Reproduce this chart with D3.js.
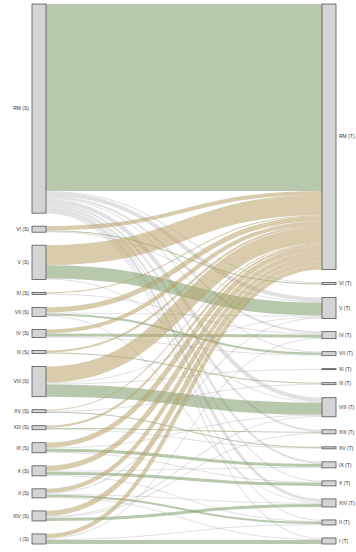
<!DOCTYPE html>
<html>
<head>
<meta charset="utf-8">
<script src="https://cdn.jsdelivr.net/npm/d3@7"></script>
<style>
  html, body { margin: 0; padding: 0; background: #fff; }
  svg { display: block; }
  text { font-family: "Liberation Sans", Arial, sans-serif; }
</style>
</head>
<body>
<svg id="chart" width="356" height="552"></svg>
<script>
// Column categories, top to bottom
const sourceNames = ["RM", "VI", "V", "XI", "VII", "IV", "III", "VIII", "XV", "XIII", "IX", "X", "II", "XIV", "I"];
const targetNames = ["RM", "VI", "V", "IV", "VII", "XI", "III", "VIII", "XIII", "XV", "IX", "X", "XIV", "II", "I"];

// Flows: source category, target category, amount
const flowSource = [
  "RM", "RM", "RM", "RM", "RM", "RM", "RM", "RM", "RM", "RM", "RM", "RM",
  "VI", "VI", "VI",
  "V", "V", "V",
  "XI", "XI",
  "VII", "VII", "VII", "VII",
  "IV", "IV", "IV",
  "III", "III",
  "VIII", "VIII", "VIII", "VIII",
  "XV", "XV", "XV",
  "XIII", "XIII", "XIII",
  "IX", "IX", "IX", "IX",
  "X", "X", "X", "X",
  "II", "II", "II", "II", "II",
  "XIV", "XIV", "XIV", "XIV",
  "I", "I", "I", "I"
];
const flowTarget = [
  "RM", "VI", "V", "IV", "VII", "VIII", "XIII", "IX", "X", "XIV", "II", "I",
  "RM", "VI", "V",
  "RM", "V", "VIII",
  "RM", "IV",
  "RM", "V", "VII", "XIV",
  "RM", "IV", "VII",
  "RM", "III",
  "RM", "V", "XI", "VIII",
  "RM", "III", "XV",
  "RM", "XIII", "XV",
  "RM", "VIII", "IX", "X",
  "RM", "IX", "X", "II",
  "RM", "V", "XIV", "II", "I",
  "RM", "VIII", "XIII", "XIV",
  "RM", "IV", "II", "I"
];
const flowValue = [
  186, 1, 4, 2, 1, 4, 2, 2, 1, 3, 1, 1,
  4, 1, 1,
  20, 13, 1,
  1, 1,
  5, 1, 2, 1,
  4, 3, 1,
  2, 1,
  16, 1, 1, 12,
  1, 1, 1,
  2, 1, 1,
  5, 1, 3, 1,
  5, 1, 3, 1,
  4, 1, 1, 2, 1,
  5, 1, 1, 3,
  4, 1, 1, 4
];

const svg = d3.select("#chart");
const yTop = 4, yBottom = 544, nodeWidth = 14, nodePadding = 13;
const x = d3.scalePoint().domain(["S", "T"]).range([32, 322]);

const links = flowValue.map((v, i) => ({ s: flowSource[i], t: flowTarget[i], value: v }));

function buildColumn(names, side, key) {
  return names.map(n => ({
    name: n, side,
    value: d3.sum(links.filter(l => l[key] === n), l => l.value)
  }));
}
const leftNodes = buildColumn(sourceNames, "S", "s");
const rightNodes = buildColumn(targetNames, "T", "t");

const maxTotal = Math.max(d3.sum(leftNodes, d => d.value), d3.sum(rightNodes, d => d.value));
const ky = (yBottom - yTop - nodePadding * (sourceNames.length - 1)) / maxTotal;
const h = d3.scaleLinear().domain([0, maxTotal]).range([0, maxTotal * ky]);

function place(nodes) {
  let y = yTop;
  nodes.forEach(n => {
    n.x0 = x(n.side); n.x1 = n.x0 + nodeWidth;
    n.y0 = y; n.y1 = y + h(n.value);
    y = n.y1 + nodePadding;
  });
}
place(leftNodes); place(rightNodes);

const leftBy = new Map(leftNodes.map(n => [n.name, n]));
const rightBy = new Map(rightNodes.map(n => [n.name, n]));
links.forEach(l => { l.source = leftBy.get(l.s); l.target = rightBy.get(l.t); l.width = h(l.value); });

// Stack link ends within each node, ordered by the opposite end's position
leftNodes.forEach(n => {
  let y = n.y0;
  links.filter(l => l.source === n)
    .sort((a, b) => targetNames.indexOf(a.t) - targetNames.indexOf(b.t))
    .forEach(l => { l.y0 = y + l.width / 2; y += l.width; });
});
rightNodes.forEach(n => {
  let y = n.y0;
  links.filter(l => l.target === n)
    .sort((a, b) => sourceNames.indexOf(a.s) - sourceNames.indexOf(b.s))
    .forEach(l => { l.y1 = y + l.width / 2; y += l.width; });
});

const linkPath = d3.linkHorizontal()
  .source(l => [l.source.x1, l.y0])
  .target(l => [l.target.x0, l.y1]);

function linkColor(l) {
  if (l.s === l.t) return "#7d9a6a";
  if (l.t === "RM") return "#b8a36a";
  return "#9a9a9a";
}
function linkOpacity(l) {
  if (l.s === l.t) return 0.55;
  if (l.t === "RM") return 0.55;
  return 0.3;
}

svg.append("g")
  .attr("fill", "none")
  .selectAll("path")
  .data(links)
  .join("path")
  .attr("d", linkPath)
  .attr("stroke", linkColor)
  .attr("stroke-opacity", linkOpacity)
  .attr("stroke-width", l => Math.max(0.6, l.width));

const allNodes = leftNodes.concat(rightNodes);
svg.append("g")
  .selectAll("rect")
  .data(allNodes)
  .join("rect")
  .attr("x", d => d.x0)
  .attr("y", d => d.y0)
  .attr("width", d => d.x1 - d.x0)
  .attr("height", d => Math.max(0.5, d.y1 - d.y0))
  .attr("fill", "#d4d4d4")
  .attr("stroke", "#555")
  .attr("stroke-width", 0.8);

svg.append("g")
  .selectAll("text")
  .data(allNodes)
  .join("text")
  .attr("x", d => d.side === "S" ? d.x0 - 3 : d.x1 + 3)
  .attr("y", d => (d.y0 + d.y1) / 2)
  .attr("dy", "0.35em")
  .attr("text-anchor", d => d.side === "S" ? "end" : "start")
  .attr("font-size", 5)
  .attr("fill", "#333")
  .text(d => `${d.name} (${d.side})`);
</script>
</body>
</html>
